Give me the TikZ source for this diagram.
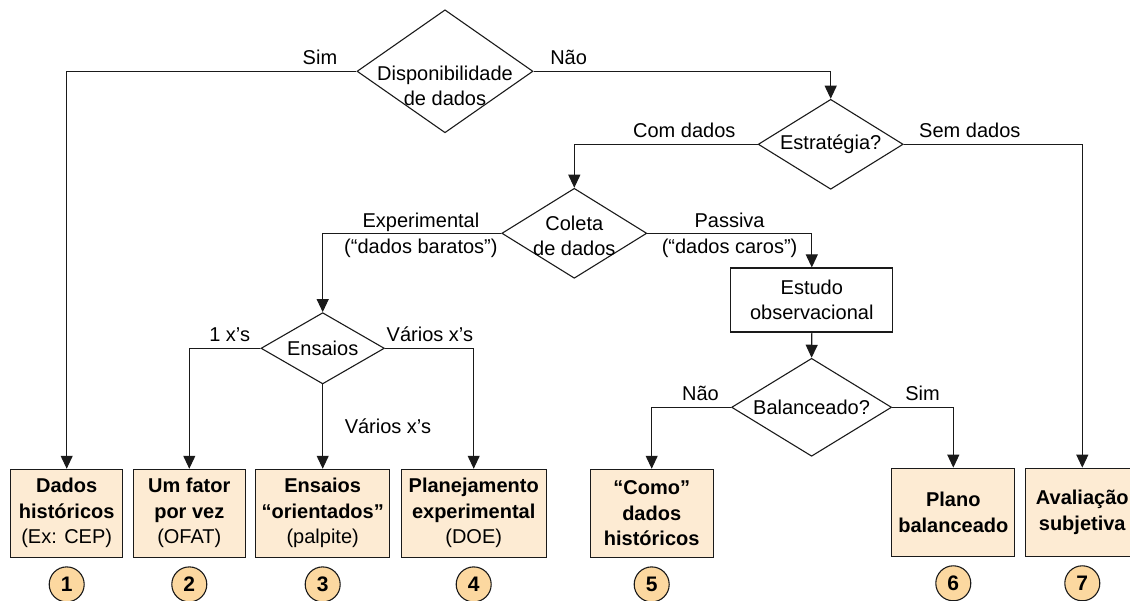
\documentclass[tikz,border=0pt]{standalone}
\usepackage{fontspec}
\setmainfont{Liberation Sans}
\usetikzlibrary{arrows.meta,positioning,shapes.geometric}
\definecolor{boxpeach}{HTML}{FDEBD3}
\definecolor{numpeach}{HTML}{FCD8A0}
\definecolor{lineblack}{HTML}{1A1A1A}

\begin{document}
\begin{tikzpicture}[
  x=1pt, y=-1pt,
  every node/.style={font=\fontsize{20}{25.5}\selectfont},
  decision/.style 2 args={
    shape=diamond, draw=lineblack, line width=1.1pt, inner sep=0pt,
    minimum width=#1, minimum height=#2
  },
  dtext/.style={align=center, inner sep=0pt},
  endbox/.style={
    draw=lineblack, fill=boxpeach, line width=1.1pt, align=center,
    minimum height=88pt, inner sep=0pt
  },
  procbox/.style={
    draw=lineblack, fill=white, line width=1.1pt, align=center,
    minimum width=162pt, minimum height=64pt, inner sep=0pt
  },
  num/.style={
    circle, draw=lineblack, fill=numpeach, line width=1.1pt,
    minimum size=35pt, inner sep=0pt, font=\fontsize{21}{24}\selectfont\bfseries
  },
  lbl/.style={inner sep=6.5pt, align=center},
  arrow/.style={-{Triangle[length=13pt, width=12pt]}, line width=1.1pt, draw=lineblack}
]
  \useasboundingbox (0,0) rectangle (1130,601);

  % Decisions
  \node[decision={176pt}{123pt}, label={[dtext, yshift=-14.4pt]center:Disponibilidade\\de dados}] (avail) at (445,71.3) {};
  \node[decision={145pt}{90pt}, label={[dtext]center:Estratégia?}] (strat) at (830.7,144.3) {};
  \node[decision={145pt}{90pt}, label={[dtext, yshift=-2.5pt]center:Coleta\\de dados}] (collect) at (574.3,233.3) {};
  \node[decision={123.4pt}{71.3pt}, label={[dtext]center:Ensaios}] (trials) at (322.7,348.3) {};
  \node[decision={160pt}{98pt}, label={[dtext]center:Balanceado?}] (balance) at (811.6,407.3) {};

  % Observational study
  \node[procbox] (observ) at (811.8,300) {Estudo\\observacional};

  % Outcomes
  \node[endbox, minimum width=112pt] (hist) at (66.7,513.3) {\textbf{Dados}\\\textbf{históricos}\\(Ex: CEP)};
  \node[endbox, minimum width=112pt] (ofat) at (189.3,513.3) {\textbf{Um fator}\\\textbf{por vez}\\(OFAT)};
  \node[endbox, minimum width=134pt] (guess) at (322.7,513.3) {\textbf{Ensaios}\\\textbf{“orientados”}\\(palpite)};
  \node[endbox, minimum width=145pt] (doe) at (473.7,513.3) {\textbf{Planejamento}\\\textbf{experimental}\\(DOE)};
  \node[endbox, minimum width=123pt] (asis) at (651.7,513.3) {\textbf{“Como”}\\\textbf{dados}\\\textbf{históricos}};
  \node[endbox, minimum width=123pt] (plan) at (953.3,512.2) {\textbf{Plano}\\\textbf{balanceado}};
  \node[endbox, minimum width=113pt] (subj) at (1082.3,512.2) {\textbf{Avaliação}\\\textbf{subjetiva}};

  % Numbers under the outcomes
  \foreach \b/\n in {hist/1, ofat/2, guess/3, doe/4, asis/5, plan/6, subj/7}
    \node[num, below=8.5pt of \b] (num\n) {\n};

  % Connectors
  \draw[arrow] (avail.west) -| (hist.north) node[lbl, pos=0.063, above] {Sim};
  \draw[arrow] (avail.east) -| (strat.north) node[lbl, pos=0.059, above] {Não};
  \draw[arrow] (strat.west) -| (collect.north) node[lbl, pos=0.2, above] {Com dados};
  \draw[arrow] (strat.east) -| (subj.north) node[lbl, pos=0.185, above] {Sem dados};
  \draw[arrow] (collect.west) -| (trials.north) node[lbl, pos=0.225, inner sep=0pt, yshift=-2pt] {Experimental\\(“dados baratos”)};
  \draw[arrow] (collect.east) -| (observ.north) node[lbl, pos=0.25, inner sep=0pt, yshift=-2pt] {Passiva\\(“dados caros”)};
  \draw[arrow] (trials.west) -| (ofat.north) node[lbl, pos=0.216, above] {1 x’s};
  \draw[arrow] (trials.east) -| (doe.north) node[lbl, pos=0.253, above] {Vários x’s};
  \draw[arrow] (trials.south) -- (guess.north) node[lbl, pos=0.5, right=15pt] {Vários x’s};
  \draw[arrow] (observ.south) -- (balance.north);
  \draw[arrow] (balance.west) -| (asis.north) node[lbl, pos=0.193, above] {Não};
  \draw[arrow] (balance.east) -| (plan.north) node[lbl, pos=0.248, above] {Sim};
\end{tikzpicture}
\end{document}
